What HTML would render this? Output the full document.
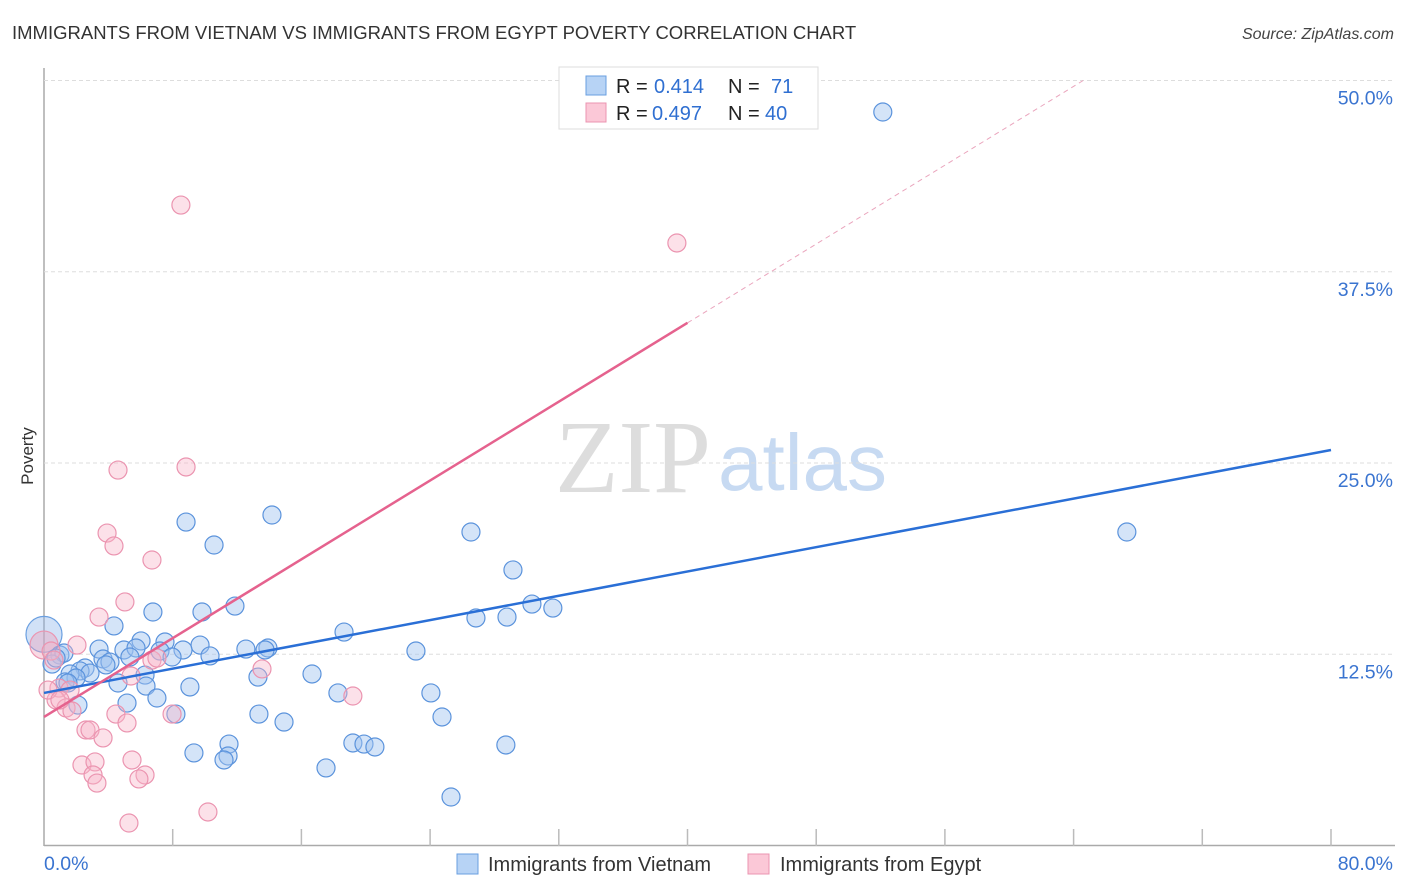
<!DOCTYPE html>
<html><head><meta charset="utf-8"><style>
body{margin:0;background:#fff;font-family:"Liberation Sans",sans-serif;}
#wrap{position:relative;width:1406px;height:892px;overflow:hidden;}
</style></head><body>
<div id="wrap">
<svg id="svg" width="1406" height="892" xmlns="http://www.w3.org/2000/svg">
<text x="12" y="39" font-size="18.5" fill="#333">IMMIGRANTS FROM VIETNAM VS IMMIGRANTS FROM EGYPT POVERTY CORRELATION CHART</text>
<text x="1394" y="39" font-size="16" fill="#444" font-style="italic" text-anchor="end">Source: ZipAtlas.com</text>
<text x="33" y="456" font-size="17" fill="#333" text-anchor="middle" transform="rotate(-90 33 456)">Poverty</text>
<text x="555" y="492" font-size="104" fill="#ddd" font-family="Liberation Serif,serif">ZIP</text>
<text x="718" y="490" font-size="80" fill="#c7daf2">atlas</text>
<g id="grid"></g><g id="pts"></g><g id="lines"></g>
<g>
<rect x="559" y="67" width="259" height="62" fill="#fff" stroke="#ddd"/>
<rect x="586" y="76" width="20" height="19" fill="#b7d3f5" stroke="#6a9fe0"/>
<rect x="586" y="103" width="20" height="19" fill="#fbc8d7" stroke="#eb94b0"/>
<text y="93" font-size="20" fill="#222"><tspan x="616">R =</tspan><tspan x="654" fill="#2f6fd1">0.414</tspan><tspan x="728">N =</tspan><tspan x="771" fill="#2f6fd1">71</tspan></text>
<text y="120" font-size="20" fill="#222"><tspan x="616">R =</tspan><tspan x="652" fill="#2f6fd1">0.497</tspan><tspan x="728">N =</tspan><tspan x="765" fill="#2f6fd1">40</tspan></text>
</g>
<g>
<rect x="457" y="854" width="21" height="20" fill="#b7d3f5" stroke="#6a9fe0"/>
<text x="488" y="871" font-size="20" fill="#333">Immigrants from Vietnam</text>
<rect x="748" y="854" width="21" height="20" fill="#fbc8d7" stroke="#eb94b0"/>
<text x="780" y="871" font-size="20" fill="#333">Immigrants from Egypt</text>
</g>
</svg>
</div>
<script>
const yTicks=[12.5,25,37.5,50];
const yTickLabels=["12.5%","25.0%","37.5%","50.0%"];
const xTickVals=[0,8,16,24,32,40,48,56,64,72,80];
const vietnamPx=[[883,112],[1127,532],[471,532],[186,522],[272,515],[214,545],[513,570],[532,604],[553,608],[476,618],[507,617],[153,612],[202,612],[235,606],[114,626],[344,632],[141,641],[165,642],[200,645],[99,649],[124,650],[136,648],[160,651],[183,650],[246,649],[268,648],[265,650],[416,651],[60,655],[64,653],[172,657],[210,656],[103,659],[130,657],[110,662],[52,664],[56,658],[85,668],[80,671],[90,673],[70,674],[76,678],[65,682],[106,665],[145,675],[312,674],[258,677],[118,683],[146,686],[190,687],[68,683],[338,693],[431,693],[157,698],[78,705],[127,703],[176,714],[259,714],[284,722],[442,717],[229,744],[353,743],[364,744],[375,747],[506,745],[194,753],[228,756],[224,760],[326,768],[451,797]];
const egyptPx=[[181,205],[677,243],[118,470],[186,467],[107,533],[114,546],[152,560],[125,602],[99,617],[77,645],[51,651],[54,660],[152,660],[157,658],[262,669],[131,676],[59,688],[70,690],[353,696],[56,700],[66,708],[72,711],[172,714],[116,714],[127,723],[86,730],[90,730],[103,738],[82,765],[95,762],[132,760],[93,775],[97,783],[145,775],[139,779],[208,812],[129,823],[48,690],[60,700]];
const vietnamX=vietnamPx.map(p=>+((p[0]-44)/16.09).toFixed(2));
const vietnamY=vietnamPx.map(p=>+((845.5-p[1])/15.3).toFixed(2));
const egyptX=egyptPx.map(p=>+((p[0]-44)/16.09).toFixed(2));
const egyptY=egyptPx.map(p=>+((845.5-p[1])/15.3).toFixed(2));
const bigVietnam=[0,13.8], bigEgypt=[0,13.1];
const vietnamFit=[9.97,25.85];
const egyptFit=[8.4,0.644];
const NS="http://www.w3.org/2000/svg";
const X=v=>44+v*16.0875, Y=v=>845.5-v*15.3;
function mk(t,a,p){const e=document.createElementNS(NS,t);for(const k in a)e.setAttribute(k,a[k]);p.appendChild(e);return e;}
const grid=document.getElementById('grid');
mk('line',{x1:44,y1:68,x2:44,y2:846,stroke:'#aaa','stroke-width':1.5},grid);
mk('line',{x1:44,y1:845.5,x2:1395,y2:845.5,stroke:'#aaa','stroke-width':1.5},grid);
yTicks.forEach((v,i)=>{
 const l=mk('line',{x1:44,y1:Y(v),x2:1394,y2:Y(v),stroke:'#ddd','stroke-dasharray':'4 3'},grid);
 
 
 const t=mk('text',{x:1393,y:Y(v)+24,'font-size':19.5,fill:'#3a74d0','text-anchor':'end'},grid);
 t.textContent=yTickLabels[i];
 
 
});
xTickVals.forEach(v=>{if(v>0){const l=mk('line',{x1:X(v),y1:829,x2:X(v),y2:846,stroke:'#bbb','stroke-width':1.5},grid);
 
 }});
const t0=mk('text',{x:44,y:870,'font-size':19.5,fill:'#3a74d0'},grid);t0.textContent='0.0%';


const t1=mk('text',{x:1393,y:870,'font-size':19.5,fill:'#3a74d0','text-anchor':'end'},grid);t1.textContent='80.0%';


const pts=document.getElementById('pts');
function dot(x,y,r,f,s,name){const c=mk('circle',{cx:X(x),cy:Y(y),r:r,fill:f,stroke:s,'stroke-width':1.2},pts);
 
 }
dot(bigVietnam[0],bigVietnam[1],18,'rgba(140,180,235,0.4)','#6a9fe0','point-vietnam');
dot(bigEgypt[0],bigEgypt[1],14,'rgba(240,160,185,0.4)','#eb94b0','point-egypt');
vietnamX.forEach((x,i)=>dot(x,vietnamY[i],9,'rgba(160,196,240,0.45)','#5b93dc','point-vietnam'));
egyptX.forEach((x,i)=>dot(x,egyptY[i],9,'rgba(248,180,200,0.4)','#eb94b0','point-egypt'));
const lines=document.getElementById('lines');
const bl=mk('line',{x1:X(0),y1:Y(vietnamFit[0]),x2:X(80),y2:Y(vietnamFit[1]),stroke:'#2a6fd6','stroke-width':2.5},lines);


const pl=mk('line',{x1:X(0),y1:Y(egyptFit[0]),x2:X(40),y2:Y(egyptFit[0]+40*egyptFit[1]),stroke:'#e5628e','stroke-width':2.5},lines);


const xe=(50-egyptFit[0])/egyptFit[1];
const pd=mk('line',{x1:X(40),y1:Y(egyptFit[0]+40*egyptFit[1]),x2:X(xe),y2:Y(50),stroke:'#eaa5bd','stroke-width':1,'stroke-dasharray':'5 4'},lines);


</script>
</body></html>
